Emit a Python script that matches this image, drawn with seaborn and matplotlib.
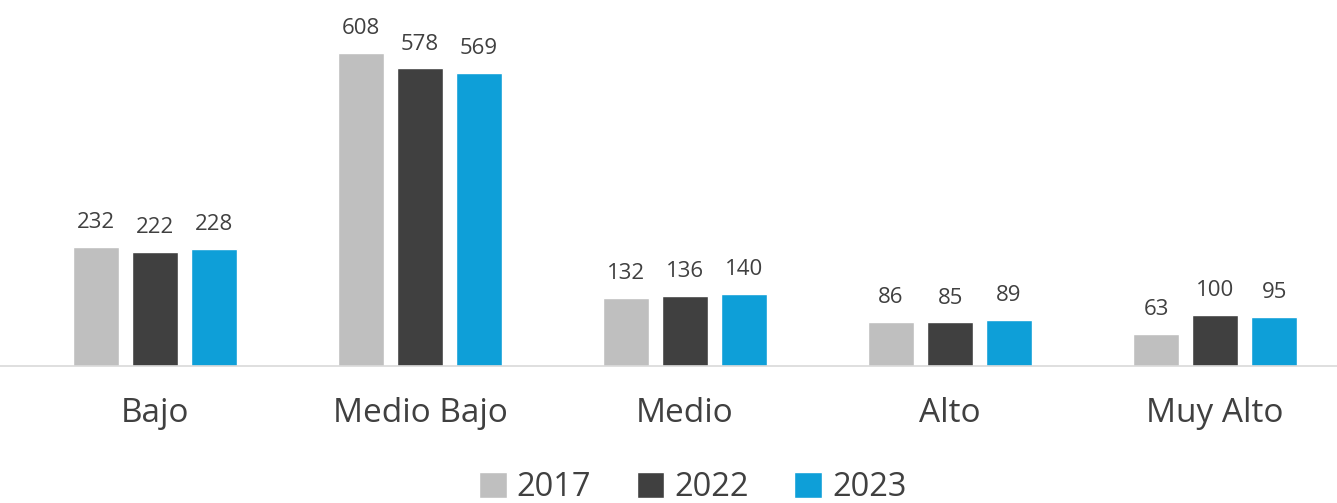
import pandas as pd
import seaborn as sns
import matplotlib.pyplot as plt

categorias = ['Bajo', 'Medio Bajo', 'Medio', 'Alto', 'Muy Alto']
anios = ['2017', '2022', '2023']
v2017 = [232, 608, 132, 86, 63]
v2022 = [222, 578, 136, 85, 100]
v2023 = [228, 569, 140, 89, 95]
colores = ['#BFBFBF', '#404040', '#0E9FD8']

df = pd.DataFrame({
    'cat': categorias * 3,
    'anio': [a for a in anios for _ in categorias],
    'valor': v2017 + v2022 + v2023,
})

sns.set_style('white')
plt.rcParams['font.family'] = ['Open Sans', 'DejaVu Sans']

dpi = 100
fig = plt.figure(figsize=(13.37, 5.03), dpi=dpi)
ax = fig.add_axes([0, 0.272, 1, 0.676])

sns.barplot(data=df, x='cat', y='valor', hue='anio', palette=colores,
            width=0.668, gap=0.22, saturation=1, ax=ax, legend=True)

for cont in ax.containers:
    ax.bar_label(cont, padding=10, fontsize=16, color='#404040')

ax.set_xlim(-0.585, 4.46)
ax.set_ylim(0, 660)
ax.set_xlabel('')
ax.set_ylabel('')
ax.set_yticks([])
ax.tick_params(axis='x', labelsize=24, colors='#404040', length=0, pad=22)
for s in ['top', 'right', 'left']:
    ax.spines[s].set_visible(False)
ax.spines['bottom'].set_color('#D9D9D9')
ax.spines['bottom'].set_linewidth(1.2)

handles, labels = ax.get_legend_handles_labels()
ax.get_legend().remove()
fig.legend(handles, labels, loc='center', bbox_to_anchor=(0.518, 0.03),
           ncol=3, frameon=False, fontsize=23.5, handlelength=0.85,
           handleheight=0.85, handletextpad=0.3, columnspacing=1.4,
           labelcolor='#404040', borderaxespad=0, borderpad=0)

fig.savefig('out.png', dpi=dpi)
